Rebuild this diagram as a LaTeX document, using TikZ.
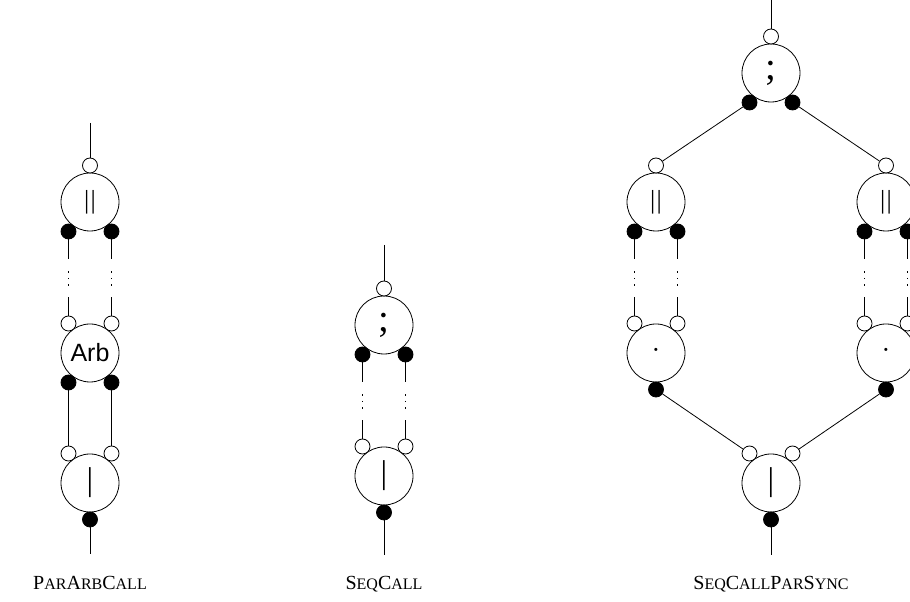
\documentclass[tikz,border=0pt]{standalone}
\usepackage{fontspec}
\setmainfont{Liberation Serif}
\newfontfamily\arbfont{Liberation Sans}
\usetikzlibrary{calc}
\newcommand\capsm[1]{{\fontsize{16}{16}\selectfont #1}}
\newcommand\portsTopOne[1]{\node[oport] (#1-t) at ($(#1)+(0,36.5)$) {};}
\newcommand\portsTopTwo[1]{\node[oport] (#1-tl) at ($(#1)+(-21.5,29.5)$) {};\node[oport] (#1-tr) at ($(#1)+(21.5,29.5)$) {};}
\newcommand\portsBotOne[1]{\node[fport] (#1-b) at ($(#1)+(0,-36.5)$) {};}
\newcommand\portsBotTwo[1]{\node[fport] (#1-bl) at ($(#1)+(-21.5,-29.5)$) {};\node[fport] (#1-br) at ($(#1)+(21.5,-29.5)$) {};}
\begin{document}
\begin{tikzpicture}[x=1pt,y=1pt,line width=0.8pt,
  big/.style={circle,draw,minimum size=58pt,inner sep=0pt},
  oport/.style={circle,draw,fill=white,minimum size=15pt,inner sep=0pt},
  fport/.style={circle,draw,fill=black,minimum size=15pt,inner sep=0pt},
  wire/.style={draw},
  dotwire/.style={draw,dash pattern=on 20pt off 12pt on 1.4pt off 5.1pt on 1.4pt off 5.1pt on 1.4pt off 11.6pt on 40pt},
  caption/.style={anchor=base,font=\fontsize{20}{20}\selectfont},
  parsym/.style={font=\fontsize{26}{26}\selectfont},
  barsym/.style={font=\fontsize{33}{33}\selectfont},
  seqsym/.style={font=\fontsize{39}{39}\selectfont},
  dotsym/.style={font=\fontsize{26}{26}\selectfont},
  arbsym/.style={font=\fontsize{25}{25}\selectfont\arbfont}]
\useasboundingbox (0,0) rectangle (910,602);

% ---------- ParArbCall ----------
\node[big,parsym] (A1) at (90,400) {|\kern1.5pt|};
\node[big,arbsym] (A2) at (90,249) {Arb};
\node[big,barsym] (A3) at (90,119) {|};
\portsTopOne{A1}\portsBotTwo{A1}
\portsTopTwo{A2}\portsBotTwo{A2}
\portsTopTwo{A3}\portsBotOne{A3}
\coordinate (Ain) at (90,479);
\coordinate (Aout) at (90,48);
\draw[wire] (Ain) -- (A1-t);
\draw[dotwire] (A1-bl) -- (A2-tl);
\draw[dotwire] (A1-br) -- (A2-tr);
\draw[wire] (A2-bl) -- (A3-tl);
\draw[wire] (A2-br) -- (A3-tr);
\draw[wire] (A3-b) -- (Aout);
\node[caption] (capA) at (90,12) {P\capsm{AR}A\capsm{RB}C\capsm{ALL}};

% ---------- SeqCall ----------
\node[big,seqsym] (B1) at (384,277) {;};
\node[big,barsym] (B2) at (384,126) {|};
\portsTopOne{B1}\portsBotTwo{B1}
\portsTopTwo{B2}\portsBotOne{B2}
\coordinate (Bin) at (384,357);
\coordinate (Bout) at (384,47);
\draw[wire] (Bin) -- (B1-t);
\draw[dotwire] (B1-bl) -- (B2-tl);
\draw[dotwire] (B1-br) -- (B2-tr);
\draw[wire] (B2-b) -- (Bout);
\node[caption] (capB) at (384,12) {S\capsm{EQ}C\capsm{ALL}};

% ---------- SeqCallParSync ----------
\node[big,seqsym] (C0) at (771,529) {;};
\node[big,parsym] (C1) at (656,400) {|\kern1.5pt|};
\node[big,parsym] (C2) at (886,400) {|\kern1.5pt|};
\node[big,dotsym] (C3) at (656,249) {·};
\node[big,dotsym] (C4) at (886,249) {·};
\node[big,barsym] (C5) at (771,119) {|};
\portsTopOne{C0}\portsBotTwo{C0}
\portsTopOne{C1}\portsBotTwo{C1}
\portsTopOne{C2}\portsBotTwo{C2}
\portsTopTwo{C3}\portsBotOne{C3}
\portsTopTwo{C4}\portsBotOne{C4}
\portsTopTwo{C5}\portsBotOne{C5}
\coordinate (Cin) at (771,606);
\coordinate (Cout) at (771,47);
\draw[wire] (Cin) -- (C0-t);
\draw[wire] (C0-bl) -- (C1-t);
\draw[wire] (C0-br) -- (C2-t);
\draw[dotwire] (C1-bl) -- (C3-tl);
\draw[dotwire] (C1-br) -- (C3-tr);
\draw[dotwire] (C2-bl) -- (C4-tl);
\draw[dotwire] (C2-br) -- (C4-tr);
\draw[wire] (C3-b) -- (C5-tl);
\draw[wire] (C4-b) -- (C5-tr);
\draw[wire] (C5-b) -- (Cout);
\node[caption] (capC) at (771,12) {S\capsm{EQ}C\capsm{ALL}P\capsm{AR}S\capsm{YNC}};
\end{tikzpicture}
\end{document}
